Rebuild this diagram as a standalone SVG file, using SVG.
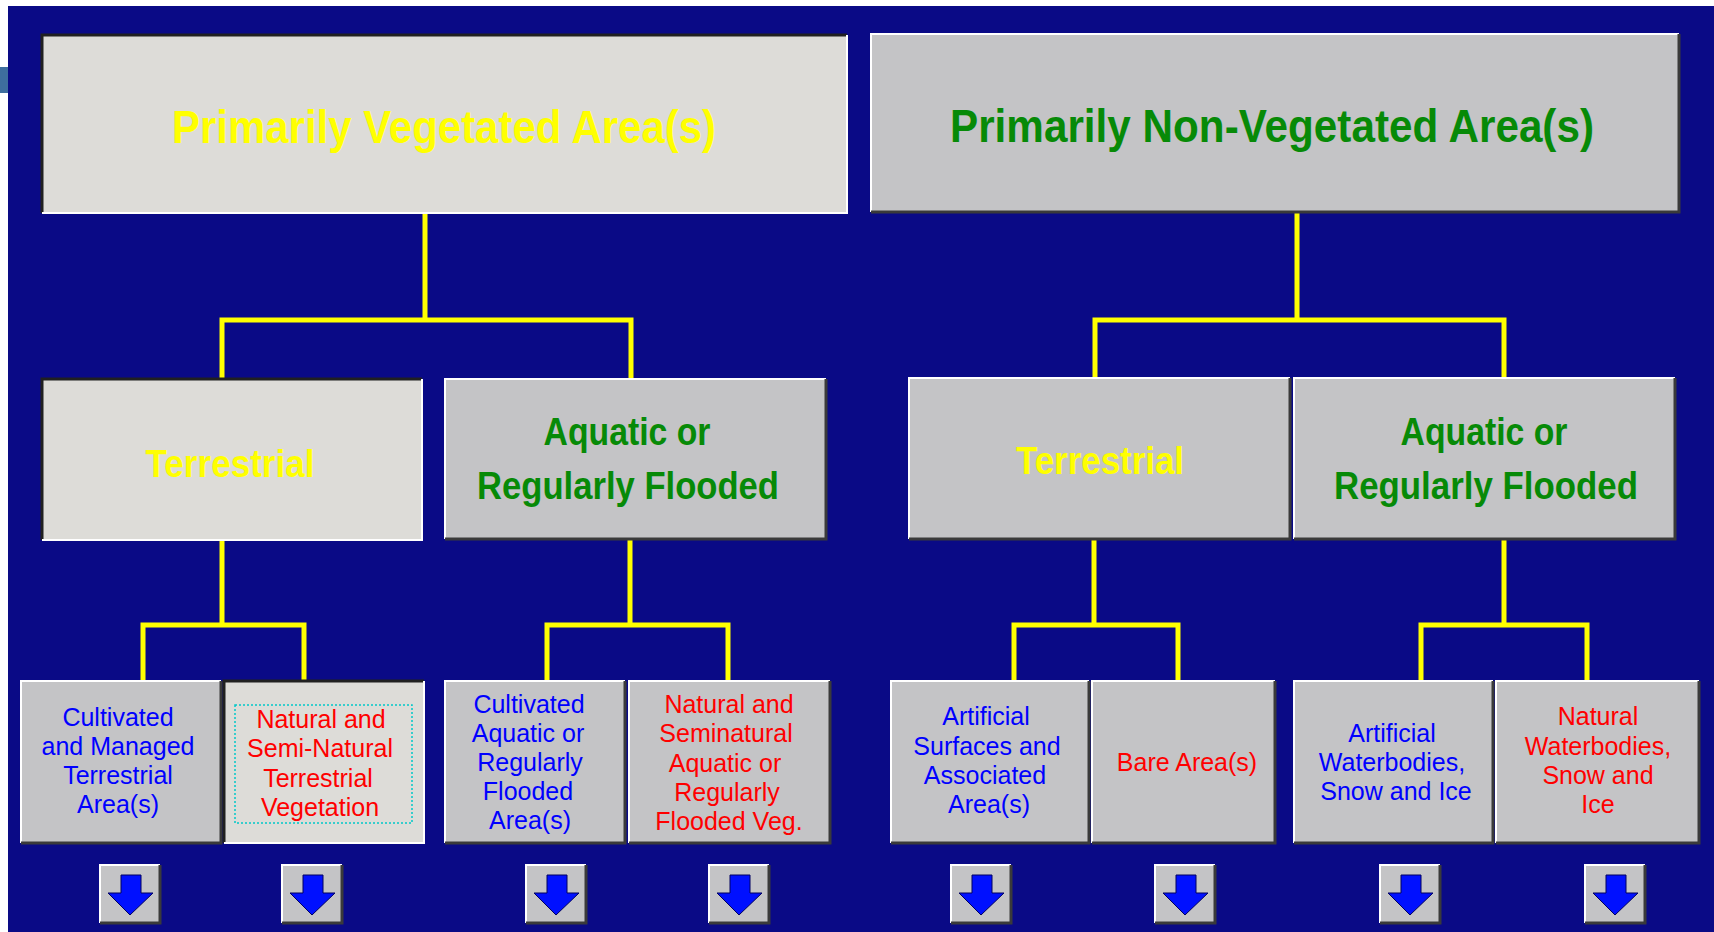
<svg xmlns="http://www.w3.org/2000/svg" width="1714" height="932" viewBox="0 0 1714 932">
<style>
.bg{fill:#0a0a86}
.raised{fill:#c4c4c6}
.pressed{fill:#dddcd8}
.hl{fill:none;stroke:#ffffff;stroke-width:2}
.sh{fill:none;stroke:#3a3a3a;stroke-width:3}
.dk{fill:none;stroke:#202020;stroke-width:3}
.conn{fill:none;stroke:#ffff00;stroke-width:5;stroke-linecap:square}
.t1{font-family:"Liberation Sans",Arial,sans-serif;font-weight:bold;font-size:47px;text-anchor:middle}
.t2{font-family:"Liberation Sans",Arial,sans-serif;font-weight:bold;font-size:38px;text-anchor:middle}
.t3{font-family:"Liberation Sans",Arial,sans-serif;font-size:25px;text-anchor:middle}
.yel{fill:#ffff00}
.grn{fill:#078a07}
.blu{fill:#0000ff}
.red{fill:#ff0000}
.arrow{fill:#0010ff;stroke:#000060;stroke-width:1}
</style>
<defs>
<g id="arrowbtn">
<rect x="0" y="0" width="60" height="58" class="raised"/>
<path d="M0,58 V0 H60" class="hl"/>
<path d="M0,58 H60 V0" class="sh"/>
<path d="M21,10 H41 V28 H53 L30,50 L8,28 H21 Z" class="arrow"/>
</g>
</defs>
<rect x="0" y="0" width="1714" height="932" fill="#ffffff"/>
<rect x="8" y="6" width="1706" height="926" class="bg"/>
<rect x="0" y="67" width="8" height="26" fill="#3e6e9e"/>

<g id="connectors">
<path d="M425,213 V320 M222,320 H631 M222,320 V379 M631,320 V379" class="conn"/>
<path d="M1297,213 V320 M1095,320 H1504 M1095,320 V379 M1504,320 V379" class="conn"/>
<path d="M222,540 V625 M143,625 H304 M143,625 V681 M304,625 V681" class="conn"/>
<path d="M630,539 V625 M547,625 H728 M547,625 V681 M728,625 V681" class="conn"/>
<path d="M1094,539 V625 M1014,625 H1178 M1014,625 V681 M1178,625 V681" class="conn"/>
<path d="M1504,539 V625 M1421,625 H1587 M1421,625 V681 M1587,625 V681" class="conn"/>
</g>

<g id="veg">
<rect x="42" y="35" width="805" height="178" class="pressed"/>
<path d="M42,213 V35 H847" class="dk"/>
<path d="M42,213 H847 V35" class="hl"/>
<text x="444" y="143" class="t1 yel" textLength="544" lengthAdjust="spacingAndGlyphs">Primarily Vegetated Area(s)</text>
</g>

<g id="nonveg">
<rect x="871" y="34" width="808" height="178" class="raised"/>
<path d="M871,212 V34 H1679" class="hl"/>
<path d="M871,212 H1679 V34" class="sh"/>
<text x="1272" y="142" class="t1 grn" textLength="644" lengthAdjust="spacingAndGlyphs">Primarily Non-Vegetated Area(s)</text>
</g>

<g id="veg-terrestrial">
<rect x="42" y="379" width="380" height="161" class="pressed"/>
<path d="M42,540 V379 H422" class="dk"/>
<path d="M42,540 H422 V379" class="hl"/>
<text x="230" y="477" class="t2 yel" textLength="169" lengthAdjust="spacingAndGlyphs">Terrestrial</text>
</g>

<g id="veg-aquatic">
<rect x="445" y="379" width="381" height="160" class="raised"/>
<path d="M445,539 V379 H826" class="hl"/>
<path d="M445,539 H826 V379" class="sh"/>
<text x="627" y="445" class="t2 grn" textLength="167" lengthAdjust="spacingAndGlyphs">Aquatic or</text>
<text x="628" y="499" class="t2 grn" textLength="302" lengthAdjust="spacingAndGlyphs">Regularly Flooded</text>
</g>

<g id="nonveg-terrestrial">
<rect x="909" y="378" width="381" height="161" class="raised"/>
<path d="M909,539 V378 H1290" class="hl"/>
<path d="M909,539 H1290 V378" class="sh"/>
<text x="1100" y="474" class="t2 yel" textLength="168" lengthAdjust="spacingAndGlyphs">Terrestrial</text>
</g>

<g id="nonveg-aquatic">
<rect x="1294" y="378" width="381" height="161" class="raised"/>
<path d="M1294,539 V378 H1675" class="hl"/>
<path d="M1294,539 H1675 V378" class="sh"/>
<text x="1484" y="445" class="t2 grn" textLength="167" lengthAdjust="spacingAndGlyphs">Aquatic or</text>
<text x="1486" y="499" class="t2 grn" textLength="304" lengthAdjust="spacingAndGlyphs">Regularly Flooded</text>
</g>

<g id="cultivated-terrestrial">
<rect x="21" y="681" width="200" height="162" class="raised"/>
<path d="M21,843 V681 H221" class="hl"/>
<path d="M21,843 H221 V681" class="sh"/>
<text class="t3 blu"><tspan x="118" y="726">Cultivated</tspan><tspan x="118" y="755">and Managed</tspan><tspan x="118" y="784">Terrestrial</tspan><tspan x="118" y="813">Area(s)</tspan></text>
</g>

<g id="natural-terrestrial">
<rect x="224" y="681" width="200" height="162" class="pressed"/>
<path d="M224,843 V681 H424" class="dk"/>
<path d="M224,843 H424 V681" class="hl"/>
<rect x="235" y="705" width="177" height="118" fill="none" stroke="#00c8c8" stroke-width="1.5" stroke-dasharray="2 2"/>
<text class="t3 red"><tspan x="321" y="728">Natural and</tspan><tspan x="320" y="757">Semi-Natural</tspan><tspan x="318" y="787">Terrestrial</tspan><tspan x="320" y="816">Vegetation</tspan></text>
</g>

<g id="cultivated-aquatic">
<rect x="445" y="681" width="180" height="162" class="raised"/>
<path d="M445,843 V681 H625" class="hl"/>
<path d="M445,843 H625 V681" class="sh"/>
<text class="t3 blu"><tspan x="529" y="713">Cultivated</tspan><tspan x="528" y="742">Aquatic or</tspan><tspan x="530" y="771">Regularly</tspan><tspan x="528" y="800">Flooded</tspan><tspan x="530" y="829">Area(s)</tspan></text>
</g>

<g id="natural-aquatic">
<rect x="629" y="681" width="201" height="162" class="raised"/>
<path d="M629,843 V681 H830" class="hl"/>
<path d="M629,843 H830 V681" class="sh"/>
<text class="t3 red"><tspan x="729" y="713">Natural and</tspan><tspan x="726" y="742">Seminatural</tspan><tspan x="725" y="772">Aquatic or</tspan><tspan x="727" y="801">Regularly</tspan><tspan x="729" y="830">Flooded Veg.</tspan></text>
</g>

<g id="artificial-surfaces">
<rect x="891" y="681" width="198" height="162" class="raised"/>
<path d="M891,843 V681 H1089" class="hl"/>
<path d="M891,843 H1089 V681" class="sh"/>
<text class="t3 blu"><tspan x="986" y="725">Artificial</tspan><tspan x="987" y="755">Surfaces and</tspan><tspan x="985" y="784">Associated</tspan><tspan x="989" y="813">Area(s)</tspan></text>
</g>

<g id="bare-areas">
<rect x="1092" y="681" width="183" height="162" class="raised"/>
<path d="M1092,843 V681 H1275" class="hl"/>
<path d="M1092,843 H1275 V681" class="sh"/>
<text x="1187" y="771" class="t3 red">Bare Area(s)</text>
</g>

<g id="artificial-water">
<rect x="1294" y="681" width="199" height="162" class="raised"/>
<path d="M1294,843 V681 H1493" class="hl"/>
<path d="M1294,843 H1493 V681" class="sh"/>
<text class="t3 blu"><tspan x="1392" y="742">Artificial</tspan><tspan x="1392" y="771">Waterbodies,</tspan><tspan x="1396" y="800">Snow and Ice</tspan></text>
</g>

<g id="natural-water">
<rect x="1496" y="681" width="203" height="162" class="raised"/>
<path d="M1496,843 V681 H1699" class="hl"/>
<path d="M1496,843 H1699 V681" class="sh"/>
<text class="t3 red"><tspan x="1598" y="725">Natural</tspan><tspan x="1598" y="755">Waterbodies,</tspan><tspan x="1598" y="784">Snow and</tspan><tspan x="1598" y="813">Ice</tspan></text>
</g>

<g id="arrow-buttons">
<use href="#arrowbtn" x="100" y="865"/>
<use href="#arrowbtn" x="282" y="865"/>
<use href="#arrowbtn" x="526" y="865"/>
<use href="#arrowbtn" x="709" y="865"/>
<use href="#arrowbtn" x="951" y="865"/>
<use href="#arrowbtn" x="1155" y="865"/>
<use href="#arrowbtn" x="1380" y="865"/>
<use href="#arrowbtn" x="1585" y="865"/>
</g>
</svg>
